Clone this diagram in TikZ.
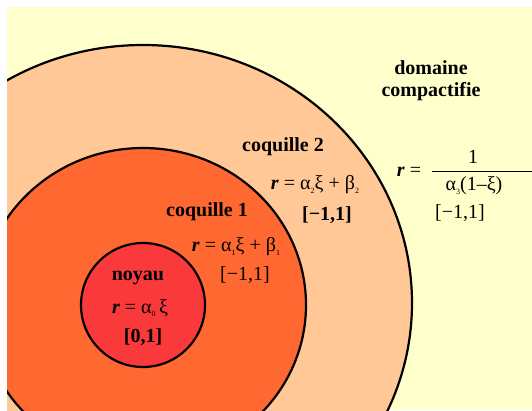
\documentclass[tikz,border=0pt]{standalone}
\usepackage{fontspec}
\setmainfont{Liberation Serif}
\definecolor{bgyellow}{RGB}{255,255,204}
\definecolor{shelltwo}{RGB}{255,200,150}
\definecolor{shellone}{RGB}{255,104,48}
\definecolor{corered}{RGB}{250,58,58}
\newcommand{\idx}[1]{\raisebox{-0.4ex}{\fontsize{8}{8}\selectfont #1}}
\newcommand{\rr}{\textbf{\textit{r}}}

\begin{document}
\begin{tikzpicture}[
  x=1pt,y=-1pt,
  font=\fontsize{20}{23}\selectfont,
  zone/.style={draw=black,line width=2.2pt},
  title/.style={font=\fontsize{20}{22}\selectfont\bfseries,inner sep=1pt},
  eqn/.style={inner sep=1pt}
]
\useasboundingbox (0,0) rectangle (532,410);
\fill[white] (0,0) rectangle (532,410);
\fill[bgyellow] (7,7) rectangle (532,410);

% Nested zones, cut by the frame.
\begin{scope}
\clip (7,7) rectangle (532,410);
\draw[zone,fill=shelltwo] (143,303) ellipse [x radius=269,y radius=258];
\draw[zone,fill=shellone] (143,305) ellipse [x radius=163,y radius=157];
\draw[zone,fill=corered] (143,305) ellipse [x radius=62,y radius=62];
\end{scope}

% Labels of the core and shells.
\node[title] (noyau) at (138,278) {noyau};
\node[eqn] (eqnoyau) at (140,308) {\rr{} = α\idx{0}\,ξ};
\node[eqn] (intnoyau) at (143,337) {\textbf{[0,1]}};

\node[title] (coq1) at (207,212) {coquille 1};
\node[eqn] (eqcoq1) at (236,247) {\rr{} = α\idx{1}ξ + β\idx{1}};
\node[eqn] (intcoq1) at (245,275) {[−1,1]};

\node[title] (coq2) at (283,147) {coquille 2};
\node[eqn] (eqcoq2) at (315,185) {\rr{} = α\idx{2}ξ + β\idx{2}};
\node[eqn] (intcoq2) at (327,215) {\textbf{[−1,1]}};

% Compactified outer domain.
\node[title,align=center] (dom) at (431,81) {domaine\\compactifie};
\node[eqn] (req) at (409,172) {\rr{} =};
\node[eqn] (num) at (473,157) {1};
\node[eqn] (den) at (474,186) {α\idx{3}(1–ξ)};
\coordinate (barL) at (432,171);
\coordinate (barR) at (532,171);
\draw[line width=0.8pt] (barL) -- (barR);
\node[eqn] (intdom) at (460,213) {[−1,1]};
\end{tikzpicture}
\end{document}
